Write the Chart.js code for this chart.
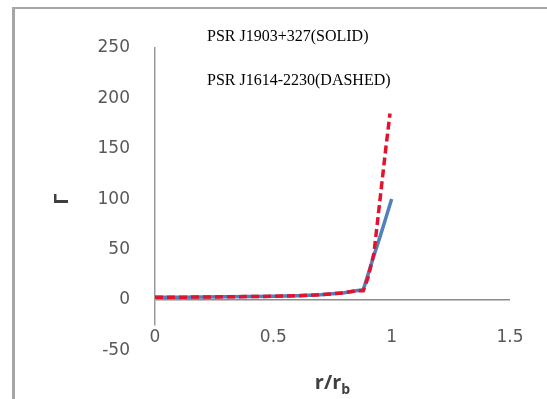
<!DOCTYPE html>
<html lang="en">
<head>
    <meta charset="UTF-8">
    <title>Gamma vs r/rb</title>
    <script src="https://cdn.jsdelivr.net/npm/chart.js"></script>
    <style>
        body { margin: 0; background: #fff; }
        #wrap { position: relative; width: 547px; height: 399px; overflow: hidden; }
        #frame { position: absolute; left: 12px; top: 7px; width: 560px; height: 420px;
                 border-left: 3px solid #a6a6a6; border-top: 2px solid #a6a6a6; }
        #chart { position: absolute; left: 0; top: 0; }
    </style>
</head>
<body>
<div id="wrap">
    <div id="frame"></div>
    <canvas id="chart" width="547" height="399"></canvas>
</div>

<script>
// values
const solidX = [0, 0.1, 0.2, 0.3, 0.4, 0.5, 0.6, 0.7, 0.8, 0.85, 0.88, 0.9, 0.925, 0.95, 0.975, 1.0];
const solidY = [2.5, 2.6, 2.8, 3, 3.2, 3.5, 4, 5, 7, 9, 10, 25, 44, 62, 81, 100];
const dashedX = [0, 0.1, 0.2, 0.3, 0.4, 0.5, 0.6, 0.7, 0.8, 0.85, 0.88, 0.9, 0.925, 0.95, 0.975, 0.993];
const dashedY = [2.5, 2.6, 2.8, 3, 3.2, 3.5, 4, 5, 7, 9, 9, 22, 46, 98, 150, 185];

const xTicks = [0, 0.5, 1, 1.5];
const yTicks = [250, 200, 150, 100, 50, 0, -50];

const solidLabel = 'PSR J1903+327(SOLID)';
const dashedLabel = 'PSR J1614-2230(DASHED)';
const xTitle = ['r/r', 'b'];
const yTitle = 'Γ';

const toPoints = (xs, ys) => xs.map((x, i) => ({ x: x, y: ys[i] }));

// titles and the two notes drawn on top of the chart
const textPlugin = {
    id: 'textPlugin',
    afterDraw(chart) {
        const ctx = chart.ctx;
        const xs = chart.scales.x;
        const ys = chart.scales.y;
        ctx.save();

        ctx.fillStyle = '#000';
        ctx.font = '16px "Liberation Serif"';
        ctx.textAlign = 'left';
        ctx.textBaseline = 'alphabetic';
        ctx.fillText(solidLabel, 207, 41);
        ctx.fillText(dashedLabel, 207, 85);

        // y title, rotated, centred on 100
        ctx.fillStyle = '#404040';
        ctx.font = 'bold 20px "Open Sans"';
        ctx.translate(62, ys.getPixelForValue(100));
        ctx.rotate(-Math.PI / 2);
        ctx.textAlign = 'center';
        ctx.textBaseline = 'middle';
        ctx.fillText(yTitle, 0, 0);
        ctx.setTransform(1, 0, 0, 1, 0, 0);

        // x title with subscript
        const cx = (xs.left + xs.right) / 2;
        ctx.font = 'bold 20px "Open Sans"';
        const w1 = ctx.measureText(xTitle[0]).width;
        ctx.font = 'bold 14px "Open Sans"';
        const w2 = ctx.measureText(xTitle[1]).width;
        const start = cx - (w1 + w2) / 2;
        ctx.textAlign = 'left';
        ctx.textBaseline = 'alphabetic';
        ctx.font = 'bold 20px "Open Sans"';
        ctx.fillText(xTitle[0], start, 389);
        ctx.font = 'bold 14px "Open Sans"';
        ctx.fillText(xTitle[1], start + w1, 394);

        ctx.restore();
    }
};

new Chart(document.getElementById('chart'), {
    type: 'line',
    data: {
        datasets: [
            {
                label: dashedLabel,
                data: toPoints(dashedX, dashedY),
                borderColor: '#e3122f',
                borderWidth: 3.5,
                borderDash: [8, 4],
                pointRadius: 0,
                fill: false,
                tension: 0
            },
            {
                label: solidLabel,
                data: toPoints(solidX, solidY),
                borderColor: '#4f81bd',
                borderWidth: 3.5,
                pointRadius: 0,
                fill: false,
                tension: 0
            }
        ]
    },
    options: {
        responsive: false,
        animation: false,
        layout: { padding: { left: 0, top: 48, right: 37, bottom: 0 } },
        plugins: {
            legend: { display: false },
            tooltip: { enabled: false }
        },
        scales: {
            x: {
                type: 'linear',
                min: 0,
                max: 1.5,
                afterBuildTicks: (scale) => { scale.ticks = xTicks.map(v => ({ value: v })); },
                afterFit: (scale) => { scale.height = 74; },
                grid: { display: false, drawTicks: false },
                border: { display: false },
                ticks: {
                    padding: 2,
                    color: '#595959',
                    font: { family: 'DejaVu Sans', size: 17 },
                    callback: (v) => String(v)
                }
            },
            y: {
                type: 'linear',
                min: -25,
                max: 250,
                afterBuildTicks: (scale) => { scale.ticks = yTicks.map(v => ({ value: v })); },
                afterFit: (scale) => { scale.width = 155; },
                grid: {
                    drawTicks: false,
                    lineWidth: 1.5,
                    color: (c) => (c.tick && c.tick.value === 0) ? '#8c8c8c' : 'rgba(0,0,0,0)'
                },
                border: { display: true, color: '#9a9a9a', width: 1.5 },
                ticks: {
                    padding: 25,
                    color: '#595959',
                    font: { family: 'DejaVu Sans', size: 17 },
                    callback: (v) => String(v)
                }
            }
        }
    },
    plugins: [textPlugin]
});
</script>
</body>
</html>
